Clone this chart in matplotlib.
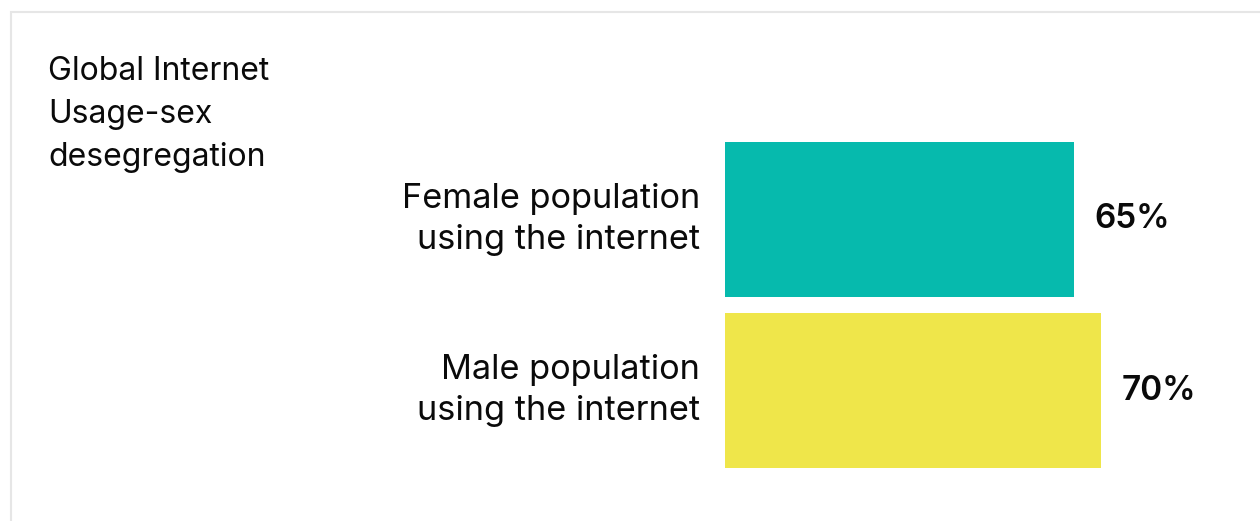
import matplotlib.pyplot as plt
import matplotlib.patches as mpatches

# data
categories = ['Female population\nusing the internet', 'Male population\nusing the internet']
shares = [65, 70]
bar_colors = ['#06BAAD', '#EFE64A']
title = 'Global Internet\nUsage-sex\ndesegregation'

FONT = ['Inter', 'DejaVu Sans']
W, H = 1260, 521

fig = plt.figure(figsize=(W / 100, H / 100), dpi=100, facecolor='white')

# light frame round the card (open on right and bottom)
fig.patches.append(mpatches.Rectangle((11 / W, -0.1), 1.2, 1 - 12 / H + 0.1,
                                      transform=fig.transFigure, fill=False,
                                      edgecolor='#E6E6E6', lw=1.5))

ax = fig.add_axes([725 / W, (H - 468) / H, 537 / W, 326 / H])
bh = 155 / 171
ypos = list(range(len(categories)))
ax.barh(ypos, shares, height=bh, color=bar_colors, edgecolor='none')
ax.set_xlim(0, 100)
ax.set_ylim(len(categories) - 1 + bh / 2, -bh / 2)
ax.axis('off')

for y, cat, v in zip(ypos, categories, shares):
    ax.text(-25 / 5.37, y, cat, ha='right', va='center',
            fontsize=24.7, family=FONT, linespacing=1.35, color='#0a0a0a')
    ax.text(v + 3.8, y, f'{v}%', ha='left', va='center',
            fontsize=24, family=FONT, fontweight='semibold', color='#0a0a0a')

fig.text(48 / W, 1 - 56 / H, title, ha='left', va='top', fontsize=23,
         family=FONT, linespacing=1.5, color='#0a0a0a')

fig.savefig('out.png', dpi=100, facecolor='white')
